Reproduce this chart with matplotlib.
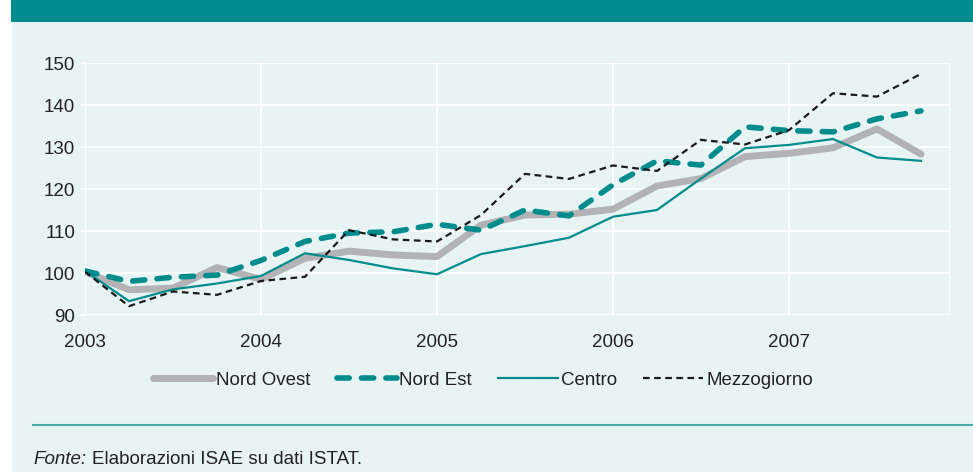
import numpy as np
import matplotlib.pyplot as plt
from matplotlib.patches import Rectangle
from matplotlib.lines import Line2D

# quarterly index, 2003 Q1 .. 2007 Q4
quarters = np.arange(20) / 4.0 + 2003
nord_ovest = [100.3, 96.0, 96.4, 101.3, 98.5, 103.5, 105.2, 104.3, 103.9, 111.4,
              113.8, 114.0, 115.2, 120.7, 122.5, 127.7, 128.5, 129.8, 134.3, 128.3]
nord_est = [100.5, 98.0, 99.0, 99.5, 103.0, 107.5, 109.5, 109.8, 111.6, 110.2,
            115.0, 113.6, 121.0, 126.7, 125.7, 134.8, 133.9, 133.6, 136.7, 138.6]
centro = [100.5, 93.3, 96.1, 97.5, 99.3, 104.7, 103.1, 101.1, 99.7, 104.5,
          106.4, 108.4, 113.4, 115.0, 122.5, 129.7, 130.5, 131.9, 127.5, 126.7]
mezzogiorno = [100.3, 92.1, 95.6, 94.8, 98.1, 99.1, 110.2, 108.0, 107.5, 113.8,
               123.6, 122.4, 125.6, 124.3, 131.7, 130.6, 134.0, 142.8, 142.0, 147.4]
years = [2003, 2004, 2005, 2006, 2007]
yticks = [90, 100, 110, 120, 130, 140, 150]

bg = '#e8f4f4'
teal = '#008c8c'
gray = '#b3b3b6'
txt = '#222222'

plt.rcParams['font.family'] = ['Liberation Sans', 'DejaVu Sans']

fig = plt.figure(figsize=(9.73, 4.72), dpi=100)
fig.patch.set_facecolor('white')
W, H = 973.0, 472.0
fig.patches.append(Rectangle((12 / W, 0), 1, 1, transform=fig.transFigure,
                             facecolor=bg, edgecolor='none', zorder=-2))
fig.patches.append(Rectangle((11 / W, 1 - 22 / H), 1, 22 / H, transform=fig.transFigure,
                             facecolor=teal, edgecolor='none', zorder=-1))
fig.lines.append(Line2D([33 / W, 1], [1 - 425 / H, 1 - 425 / H], transform=fig.transFigure,
                        color='#4aa9a9', lw=1.5))

ax = fig.add_axes([85 / W, 1 - 315 / H, (950 - 85) / W, (315 - 63) / H])
ax.set_facecolor(bg)
ax.set_xlim(2003, 2007.915)
ax.set_ylim(90, 150)
ax.set_xticks(years)
ax.set_yticks(yticks)
ax.grid(True, color='white', lw=1.3)
ax.set_axisbelow(True)
for s in ax.spines.values():
    s.set_visible(False)
ax.axvline(2007.915, color='white', lw=1.3, zorder=0)
ax.tick_params(axis='y', length=3, color='white', width=1.3, pad=4, labelsize=13.5,
               labelcolor=txt)
ax.tick_params(axis='x', length=0, pad=14, labelsize=13.5, labelcolor=txt)

l1, = ax.plot(quarters, nord_ovest, color=gray, lw=5, solid_capstyle='round',
              solid_joinstyle='round', label='Nord Ovest')
l2, = ax.plot(quarters, nord_est, color=teal, lw=4, ls=(0, (2.2, 2.2)),
              dash_capstyle='round', label='Nord Est')
l3, = ax.plot(quarters, centro, color=teal, lw=1.6, label='Centro')
l4, = ax.plot(quarters, mezzogiorno, color='#1a1a1a', lw=1.6, ls=(0, (3, 2)),
              label='Mezzogiorno')

leg = fig.legend(handles=[l1, l2, l3, l4], loc='center', ncol=4,
                 bbox_to_anchor=(483 / W, 1 - 380 / H), frameon=False,
                 fontsize=13.5, handlelength=3.2, handletextpad=0.15,
                 columnspacing=1.4)
for t in leg.get_texts():
    t.set_color(txt)

fig.text(33 / W, 1 - 459 / H, 'Fonte:', style='italic', fontsize=13.5, va='center',
         color=txt)
fig.text(92 / W, 1 - 459 / H, 'Elaborazioni ISAE su dati ISTAT.', fontsize=13.5,
         va='center', color=txt)

fig.savefig('out.png', dpi=100, facecolor=fig.get_facecolor())
